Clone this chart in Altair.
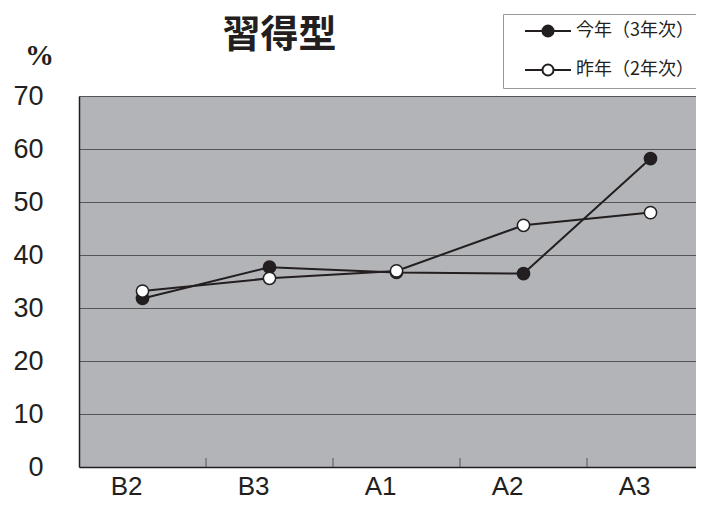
import altair as alt
import pandas as pd

categories = ["B2", "B3", "A1", "A2", "A3"]
series_names = ["今年（3年次）", "昨年（2年次）"]
this_year = [31.8, 37.7, 36.7, 36.5, 58.2]
last_year = [33.2, 35.6, 37.0, 45.6, 48.0]

rows = []
for name, vals in zip(series_names, [this_year, last_year]):
    for c, v in zip(categories, vals):
        rows.append({"cat": c, "series": name, "value": v})
df = pd.DataFrame(rows)
ticks_df = pd.DataFrame({"cat": categories[1:]})

FONT = "Liberation Sans"
JP = "Noto Sans CJK JP"
INK = "#231f20"

xscale = alt.Scale(domain=categories, range=[0, 635], paddingInner=0, paddingOuter=0)
yscale = alt.Scale(domain=[0, 70], nice=False, zero=True)

x_axis = alt.Axis(
    title=None, labelFont=FONT, labelFontSize=26, labelColor=INK, labelPadding=19,
    ticks=False, domain=False, labelAngle=0, grid=False,
)
y_axis = alt.Axis(
    title="%", titleAngle=0, titleFont="Liberation Sans Narrow", titleFontSize=29,
    titleFontWeight="bold", titleColor=INK, titleX=-40, titleY=-41,
    titleAlign="center", titleBaseline="middle",
    values=list(range(0, 71, 10)), labelFont=FONT, labelFontSize=27, labelColor=INK,
    labelPadding=36, tickSize=0, domainColor=INK, domainWidth=1.5,
    gridColor={"condition": {"test": "datum.value === 0", "value": INK}, "value": "#555555"},
    gridWidth={"condition": {"test": "datum.value === 0", "value": 1.5}, "value": 1},
    labelBaseline="middle", labelAlign="right",
)

base = alt.Chart(df)

lines = base.mark_line(color=INK, strokeWidth=2).encode(
    x=alt.X("cat:N", scale=xscale, axis=x_axis, sort=categories),
    y=alt.Y("value:Q", scale=yscale, axis=y_axis),
    detail="series:N",
)

sym_path = ("M-3.83,0L-0.92,0M0.92,0L3.83,0M-0.92,0A0.92,0.92,0,1,1,0.92,0"
            "A0.92,0.92,0,1,1,-0.92,0Z")

points = base.mark_point(filled=True, size=150, stroke=INK, strokeWidth=1.5, opacity=1).encode(
    x=alt.X("cat:N", scale=xscale, sort=categories),
    y=alt.Y("value:Q", scale=yscale),
    fill=alt.Fill(
        "series:N",
        scale=alt.Scale(domain=series_names, range=[INK, "#ffffff"]),
        legend=alt.Legend(
            title=None, orient="none", legendX=424, legendY=-82,
            symbolType=sym_path, symbolSize=144, symbolStrokeColor=INK,
            symbolStrokeWidth=2, symbolOffset=28, labelOffset=19,
            labelFont=JP, labelFontSize=18, labelColor=INK,
            fillColor="#ffffff", strokeColor="#999999", padding=8,
            rowPadding=19,
        ),
    ),
)

tick_rules = alt.Chart(ticks_df).mark_rule(color="#555555", strokeWidth=1).encode(
    x=alt.X("cat:N", scale=xscale, bandPosition=0),
    y=alt.value(371),
    y2=alt.value(362),
)

chart = alt.layer(tick_rules, lines, points).properties(
    width=617,
    height=371,
    autosize=alt.AutoSizeParams(type="none"),
    padding={"left": 71, "top": 88, "right": 0, "bottom": 42},
    title=alt.TitleParams(
        "習得型", font=JP, fontSize=38, fontWeight="bold", color=INK,
        anchor="middle", frame="group", dx=-108, offset=-41,
    ),
).configure_view(fill="#b3b4b8", stroke=None)

chart.save("out.html", embed_options={"renderer": "svg", "actions": False})
